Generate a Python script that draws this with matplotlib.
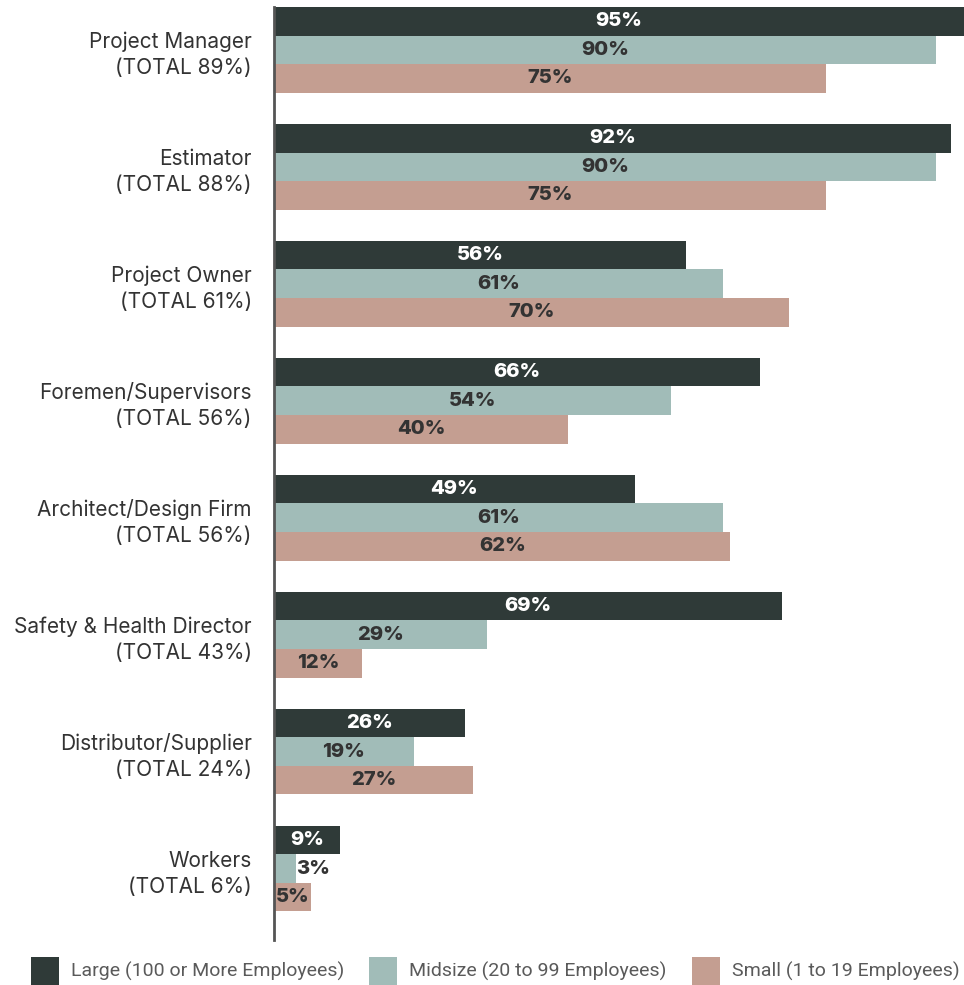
import matplotlib.pyplot as plt
from matplotlib.patches import Rectangle
import numpy as np

plt.rcParams['font.family'] = ['Inter', 'DejaVu Sans']

roles = ["Project Manager", "Estimator", "Project Owner", "Foremen/Supervisors",
         "Architect/Design Firm", "Safety & Health Director",
         "Distributor/Supplier", "Workers"]
totals = [89, 88, 61, 56, 56, 43, 24, 6]

large = [95, 92, 56, 66, 49, 69, 26, 9]
midsize = [90, 90, 61, 54, 61, 29, 19, 3]
small = [75, 75, 70, 40, 62, 12, 27, 5]

series_names = ["Large (100 or More Employees)", "Midsize (20 to 99 Employees)",
                "Small (1 to 19 Employees)"]
colors = ["#2f3a38", "#a1bcb8", "#c49e91"]
text_colors = ["white", "#333333", "#333333"]

fig = plt.figure(figsize=(9.64, 9.85), dpi=100)
W, H = 964, 985
ax = fig.add_axes([274 / W, 1 - 940 / H, 1 - 274 / W, (940 - 7) / H])

gap = 4.1
xmax = 93.75
group_top = np.arange(len(roles)) * gap

for k, vals in enumerate([large, midsize, small]):
    ys = group_top + 0.5 + k
    ax.barh(ys, vals, height=1.0, color=colors[k], linewidth=0)
    for y, v in zip(ys, vals):
        if v < 4:
            ax.text(v, y, f"{v}%", ha="left", va="center", fontsize=14.5,
                    fontweight="heavy", color="#333333")
        else:
            ax.text(min(v, xmax) / 2, y, f"{v}%", ha="center", va="center",
                    fontsize=14.5, fontweight="heavy", color=text_colors[k])

ax.set_xlim(0, xmax)
ax.set_ylim(32.7, 0)
ax.set_xticks([])
ax.set_yticks(group_top + 1.5)
ax.set_yticklabels([f"{r}\n(TOTAL {t}%)" for r, t in zip(roles, totals)],
                   fontsize=15, color="#333333", linespacing=1.38, ha="right")
ax.tick_params(axis="y", length=0, pad=16)
for s in ["top", "right", "bottom"]:
    ax.spines[s].set_visible(False)
ax.spines["left"].set_color("#555555")
ax.spines["left"].set_linewidth(2)

# legend along the bottom
for x0, name, c in zip([31, 369, 692], series_names, colors):
    fig.add_artist(Rectangle((x0 / W, 1 - 985 / H), 28 / W, 28 / H,
                             transform=fig.transFigure, color=c, linewidth=0))
    fig.text((x0 + 40) / W, 1 - 971 / H, name, ha="left", va="center",
             fontsize=14, color="#5a5a5a", family=["Roboto", "DejaVu Sans"])

fig.savefig("out.png", dpi=100)
